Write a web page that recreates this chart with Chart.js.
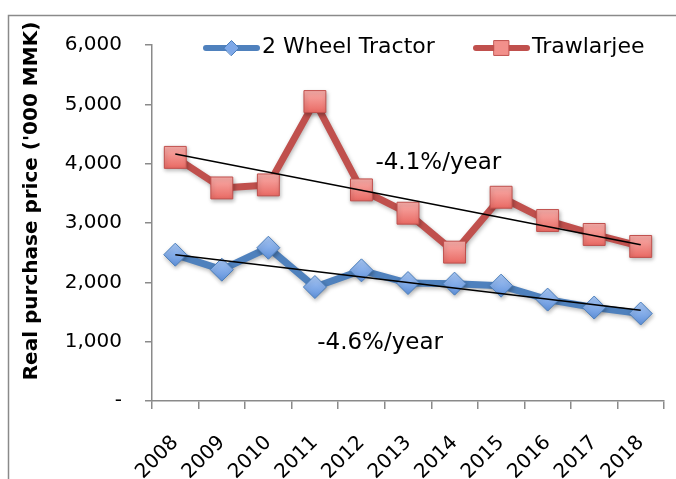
<!DOCTYPE html>
<html>
<head>
<meta charset="utf-8">
<script src="https://cdn.jsdelivr.net/npm/chart.js@4.4.1/dist/chart.umd.min.js"></script>
<style>
html,body{margin:0;padding:0;background:#fff;}
#wrap{width:676px;height:479px;position:relative;}
</style>
</head>
<body>
<div id="wrap"><canvas id="c" width="676" height="479"></canvas></div>
<script>
// ---- data ----
const years = ['2008','2009','2010','2011','2012','2013','2014','2015','2016','2017','2018'];
const tractor = [2466, 2213, 2583, 1921, 2202, 1988, 1978, 1944, 1709, 1575, 1474];
const trawlarjee = [4106, 3591, 3642, 5047, 3558, 3165, 2509, 3434, 3042, 2807, 2605];
const tractorTrend = [2466, null, null, null, null, null, null, null, null, null, 1529];
const trawlarjeeTrend = [4163, null, null, null, null, null, null, null, null, null, 2634];
const yTicks = [0, 1000, 2000, 3000, 4000, 5000, 6000];
const yTickLabels = ['-', '1,000', '2,000', '3,000', '4,000', '5,000', '6,000'];
const seriesNames = ['2 Wheel Tractor', 'Trawlarjee'];
const trendTexts = ['-4.6%/year', '-4.1%/year'];
const trendTextAt = [[3.05, 975], [4.3, 4017]]; // [category index, value]
const yTitle = "Real purchase price ('000 MMK)";

const FONT = "'DejaVu Sans', sans-serif";
const BLUE = '#4f81bd', RED = '#c0504d';

function grad(top, bottom, r) {
  return (ctx) => {
    const chart = ctx.chart;
    if (ctx.type !== 'data' || !chart.scales || !chart.scales.y) return bottom;
    const y = chart.scales.y.getPixelForValue(ctx.parsed.y);
    if (!isFinite(y)) return bottom;
    const g = chart.ctx.createLinearGradient(0, y - r, 0, y + r);
    g.addColorStop(0, top);
    g.addColorStop(1, bottom);
    return g;
  };
}

const shadowPlugin = {
  id: 'shadow',
  beforeDatasetDraw(chart, args) {
    if (chart.data.datasets[args.index].shadow) {
      const c = chart.ctx;
      c.save();
      c.shadowColor = 'rgba(0,0,0,0.28)';
      c.shadowBlur = 4;
      c.shadowOffsetX = 1;
      c.shadowOffsetY = 2;
    }
  },
  afterDatasetDraw(chart, args) {
    if (chart.data.datasets[args.index].shadow) chart.ctx.restore();
  }
};

const decorPlugin = {
  id: 'decor',
  beforeDraw(chart) {
    const c = chart.ctx;
    c.save();
    c.strokeStyle = '#8a8a8a';
    c.lineWidth = 1.5;
    c.beginPath();
    c.moveTo(8.5, chart.height);
    c.lineTo(8.5, 15.5);
    c.lineTo(chart.width, 15.5);
    c.stroke();
    c.restore();
  },
  afterDraw(chart) {
    const c = chart.ctx;
    const xs = chart.scales.x, ys = chart.scales.y;
    c.save();
    // y-axis title
    c.save();
    c.translate(32, 201);
    c.rotate(-Math.PI / 2);
    c.font = "bold 20px " + FONT;
    c.fillStyle = '#000';
    c.textAlign = 'center';
    c.textBaseline = 'middle';
    c.fillText(yTitle, 0, 0);
    c.restore();
    // trend annotations
    c.font = "23px " + FONT;
    c.fillStyle = '#000';
    c.textAlign = 'left';
    c.textBaseline = 'middle';
    trendTexts.forEach((t, i) => {
      c.fillText(t, xs.getPixelForValue(trendTextAt[i][0]), ys.getPixelForValue(trendTextAt[i][1]));
    });
    // legend
    const starts = [203, 473];
    const ly = 48;
    const styles = [
      {color: BLUE, fill: '#7ea8e8', border: '#4a7ebb', ps: 'rectRot', r: 7.5},
      {color: RED, fill: '#f2908b', border: '#c0504d', ps: 'rect', r: 10.5}
    ];
    seriesNames.forEach((name, i) => {
      const s = styles[i];
      const x0 = starts[i];
      c.strokeStyle = s.color;
      c.lineWidth = 6;
      c.lineCap = 'round';
      c.beginPath();
      c.moveTo(x0 + 3, ly);
      c.lineTo(x0 + 54, ly);
      c.stroke();
      c.fillStyle = s.fill;
      c.strokeStyle = s.border;
      c.lineWidth = 1;
      Chart.helpers.drawPoint(c, {pointStyle: s.ps, radius: s.r, borderWidth: 1}, x0 + 28.5, ly);
      c.fillStyle = '#000';
      c.font = "22px " + FONT;
      c.textAlign = 'left';
      c.textBaseline = 'middle';
      c.fillText(name, x0 + 59, ly - 1);
    });
    c.restore();
  }
};

new Chart(document.getElementById('c'), {
  type: 'line',
  data: {
    labels: years,
    datasets: [
      {
        label: 'trend ' + seriesNames[1], data: trawlarjeeTrend, borderColor: '#000', borderWidth: 1.5,
        pointRadius: 0, spanGaps: true, fill: false, order: 0
      },
      {
        label: 'trend ' + seriesNames[0], data: tractorTrend, borderColor: '#000', borderWidth: 1.5,
        pointRadius: 0, spanGaps: true, fill: false, order: 0
      },
      {
        label: seriesNames[0], data: tractor, borderColor: BLUE, borderWidth: 7,
        pointStyle: 'rectRot', pointRadius: 11.5, pointBorderWidth: 1,
        pointBorderColor: '#4a7ebb', pointBackgroundColor: grad('#a9c8f6', '#5f91db', 11.5),
        fill: false, order: 1, shadow: true, borderJoinStyle: 'round', clip: false
      },
      {
        label: seriesNames[1], data: trawlarjee, borderColor: RED, borderWidth: 7,
        pointStyle: 'rect', pointRadius: 15.5, pointBorderWidth: 1,
        pointBorderColor: '#c0504d', pointBackgroundColor: grad('#f9aeaa', '#e96a64', 11),
        fill: false, order: 1, shadow: true, borderJoinStyle: 'round', clip: false
      }
    ]
  },
  options: {
    responsive: false,
    devicePixelRatio: 1,
    animation: false,
    events: [],
    layout: {autoPadding: false, padding: {top: 45, left: 0, right: 12, bottom: 0}},
    plugins: {legend: {display: false}, tooltip: {enabled: false}},
    scales: {
      x: {
        type: 'category',
        offset: true,
        grid: {offset: true, drawOnChartArea: false, drawTicks: true, tickLength: 8, color: '#8a8a8a', lineWidth: 1.5},
        border: {color: '#8a8a8a', width: 1.5},
        ticks: {font: {family: FONT, size: 20}, color: '#000', minRotation: 45, maxRotation: 45, padding: 22},
        afterFit(s) { s.height = 78; s.paddingLeft = 0; s.paddingRight = 0; }
      },
      y: {
        min: 0, max: 6000,
        afterBuildTicks(s) { s.ticks = yTicks.map(v => ({value: v})); },
        grid: {drawOnChartArea: false, drawTicks: true, tickLength: 7, color: '#8a8a8a', lineWidth: 1.5},
        border: {color: '#8a8a8a', width: 1.5},
        ticks: {
          font: {family: FONT, size: 20}, color: '#000', padding: 23,
          callback: (v) => { const i = yTicks.indexOf(v); return i >= 0 ? yTickLabels[i] : ''; }
        },
        afterFit(s) { s.width = 152; }
      }
    }
  },
  plugins: [shadowPlugin, decorPlugin]
});
</script>
</body>
</html>
